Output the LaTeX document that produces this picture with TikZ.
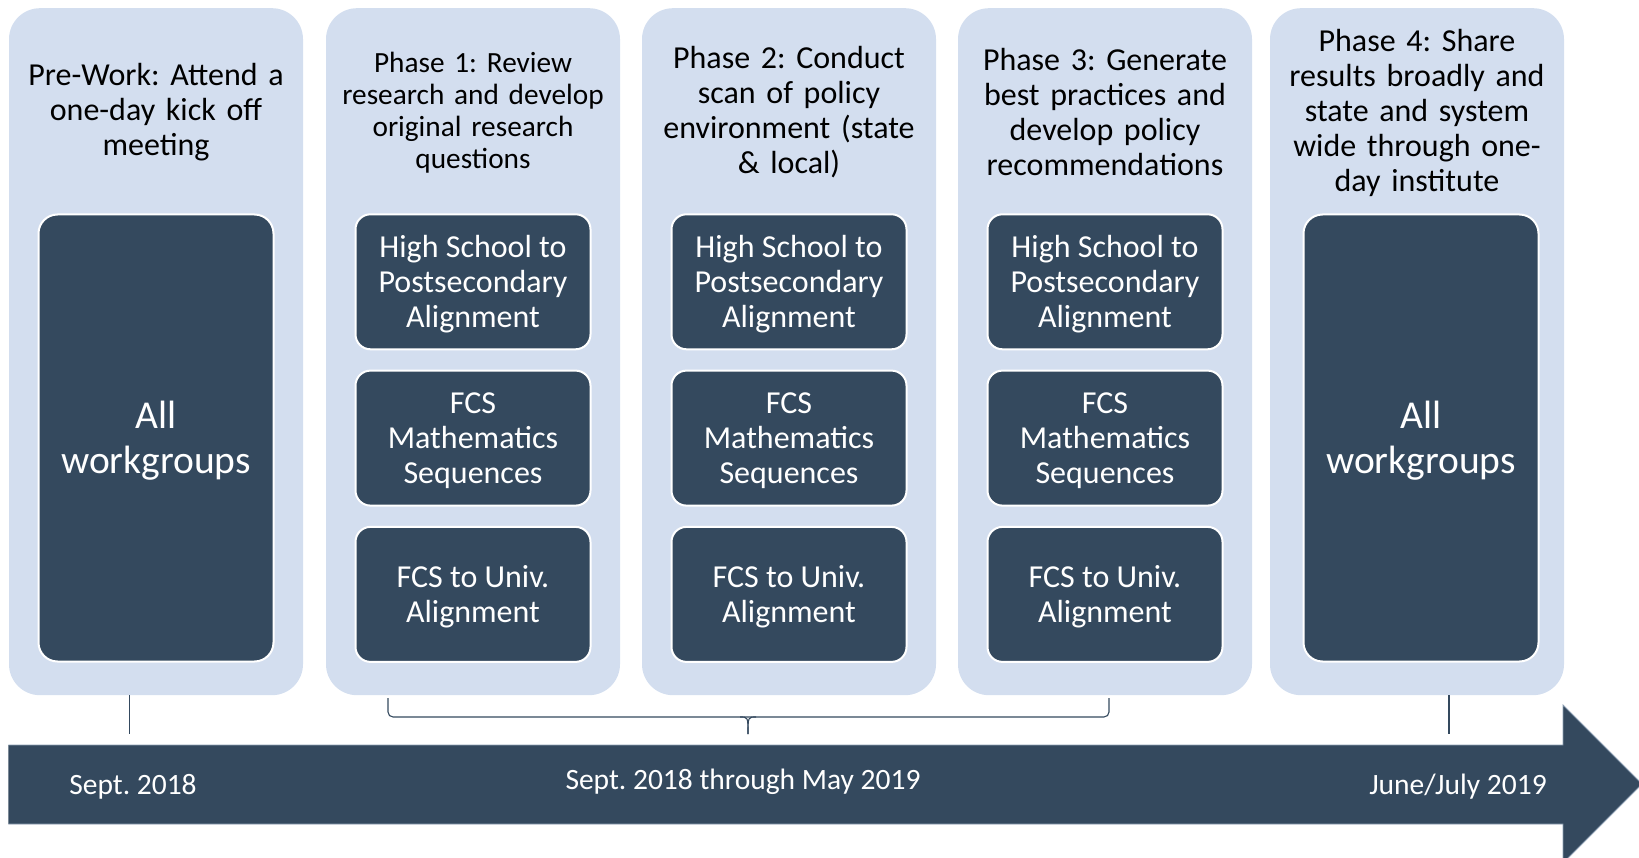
\documentclass[tikz,border=0pt]{standalone}
\usepackage{fontspec}
\setmainfont{Carlito}
\frenchspacing
\definecolor{lightcol}{RGB}{211,222,239}
\definecolor{darkcol}{RGB}{52,73,94}
\definecolor{edgecol}{RGB}{140,158,178}
\begin{document}
\frenchspacing
\begin{tikzpicture}[x=1pt,y=-1pt,
  phase/.style={fill=lightcol, rounded corners=31pt, minimum width=294pt,
    minimum height=687pt, inner sep=0pt},
  head/.style={text width=290pt, align=center, inner sep=0pt, yshift=-2.5pt,
    font=\fontsize{32}{35}\selectfont},
  headsmall/.style={head, font=\fontsize{29.3}{31.8}\selectfont},
  bigbox/.style={fill=darkcol, draw=white, line width=2pt, rounded corners=19pt,
    minimum width=235pt, minimum height=447pt, inner sep=0pt},
  smallbox/.style={fill=darkcol, draw=white, line width=2pt, rounded corners=15pt,
    minimum width=235pt, minimum height=135pt, inner sep=0pt},
  bigtext/.style={text=white, align=center, inner sep=0pt,
    font=\fontsize{39.5}{45}\selectfont},
  boxtext/.style={text=white, align=center, inner sep=0pt,
    font=\fontsize{32}{35}\selectfont},
  datelbl/.style={text=white, font=\fontsize{29.5}{34}\selectfont, inner sep=0pt},
  thin/.style={draw=darkcol, line width=1.1pt}
]
\useasboundingbox (0,0) rectangle (1639,858);

% phase columns
\node[phase] (c1) at (156,351.7) {};
\node[phase] (c2) at (473,351.7) {};
\node[phase] (c3) at (789,351.7) {};
\node[phase] (c4) at (1105,351.7) {};
\node[phase] (c5) at (1417,351.7) {};

% column headings
\node[head] (h1) at (156,110) {Pre-Work: Attend a\\one-day kick off\\meeting};
\node[headsmall] (h2) at (473,110) {Phase 1: Review\\research and develop\\original research\\questions};
\node[head] (h3) at (789,110) {Phase 2: Conduct\\scan of policy\\environment (state\\\& local)};
\node[head] (h4) at (1105,110) {Phase 3: Generate\\best practices and\\develop policy\\recommendations};
\node[head] (h5) at (1417,110) {Phase 4: Share\\results broadly and\\state and system\\wide through one-\\day institute};

% whole-group boxes
\node[bigbox] (a1) at (156,438) {};
\node[bigtext] (a1t) at ([yshift=-2.5pt]a1.center) {All\\workgroups};
\node[bigbox] (a5) at (1421,438) {};
\node[bigtext] (a5t) at ([yshift=-2.5pt]a5.center) {All\\workgroups};

% workgroup boxes of phases 1-3
\foreach \c/\x in {2/473,3/789,4/1105}{
  \node[smallbox] (w\c a) at (\x,281.8) {};
  \node[boxtext] at ([yshift=-2.5pt]w\c a.center) {High School to\\Postsecondary\\Alignment};
  \node[smallbox] (w\c b) at (\x,438.1) {};
  \node[boxtext] at ([yshift=-2.5pt]w\c b.center) {FCS\\Mathematics\\Sequences};
  \node[smallbox] (w\c c) at (\x,594.4) {};
  \node[boxtext] at ([yshift=-2.5pt]w\c c.center) {FCS to Univ.\\Alignment};
}

% timeline arrow
\coordinate (ar1) at (8.4,745);
\coordinate (ar2) at (1563,745);
\coordinate (ar3) at (1563,705);
\coordinate (ar4) at (1642,784);
\coordinate (ar5) at (1563,863);
\coordinate (ar6) at (1563,824);
\coordinate (ar7) at (8.4,824);
\fill[darkcol] (ar1) -- (ar2) -- (ar3) -- (ar4) -- (ar5) -- (ar6) -- (ar7) -- cycle;
\draw[edgecol, line width=0.8pt] (ar7) -- (ar6) -- (ar5) -- (ar4) -- (ar3) -- (ar2) -- (ar1);

\node[datelbl] (d1) at (133,786.5) {Sept. 2018};
\node[datelbl] (d2) at (743,781.5) {Sept. 2018 through May 2019};
\node[datelbl] (d3) at (1458,786.5) {June/July 2019};

% markers from columns to the timeline
\coordinate (t1) at (129.6,734);
\coordinate (t5) at (1449,734);
\draw[thin] (c1.south -| t1) -- (t1);
\draw[thin] (c5.south -| t5) -- (t5);

% brace spanning phases 1-3
\coordinate (bl) at (388,698);
\coordinate (br) at (1109,698);
\coordinate (bm) at (748,717);
\coordinate (bt) at (748,734);
\draw[thin, rounded corners=5pt] (bl) -- (bl |- bm) -- (br |- bm) -- (br);
\draw[thin] (740,717) .. controls (748,717) .. (bt);
\draw[thin] (756,717) .. controls (748,717) .. (bt);
\end{tikzpicture}
\end{document}
